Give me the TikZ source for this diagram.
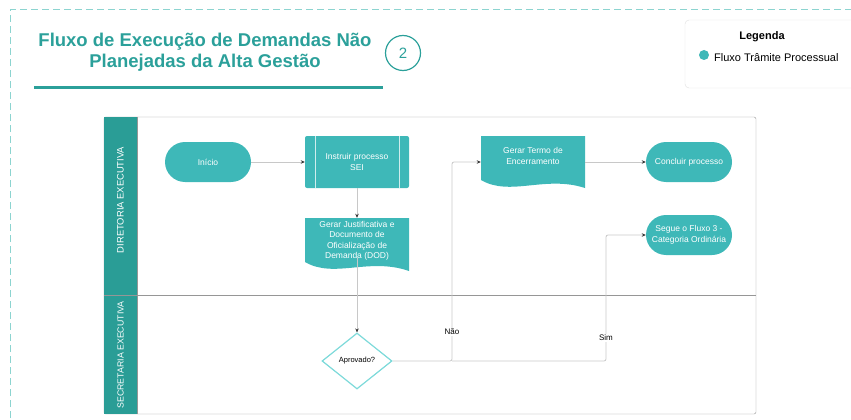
\documentclass[tikz,border=0pt]{standalone}
\usepackage{fontspec}
\setmainfont{Liberation Sans}
\usetikzlibrary{arrows.meta,shapes.geometric}
\definecolor{tealfill}{RGB}{62,184,184}
\definecolor{teallane}{RGB}{42,157,150}
\definecolor{tealtitle}{RGB}{43,160,154}
\definecolor{tealdash}{RGB}{140,212,208}
\definecolor{diamcol}{RGB}{125,218,218}
\definecolor{linecol}{RGB}{200,200,200}
\definecolor{poolcol}{RGB}{150,150,150}
\tikzset{
  conn/.style={draw=linecol, line width=0.8pt, rounded corners=2pt, -{Stealth[length=4pt,width=3.5pt,color=black!80]}},
  terminal/.style={fill=tealfill, rounded corners=20pt, minimum width=86pt, minimum height=40pt, text=white, font=\fontsize{8.5}{10.5}\selectfont, align=center},
  process/.style={fill=tealfill, rounded corners=2pt, minimum width=104pt, minimum height=52pt, text=white, font=\fontsize{8.5}{10.5}\selectfont, align=center},
  doctext/.style={text=white, font=\fontsize{8.5}{10.5}\selectfont, align=center, inner sep=0pt},
  lanelabel/.style={rotate=90, text=white, font=\fontsize{9.4}{11}\selectfont},
  edgelabel/.style={fill=white, inner sep=1pt, font=\fontsize{8}{10}\selectfont},
}
\begin{document}
\begin{tikzpicture}[x=1pt,y=1pt,yscale=-1,xscale=1]
\useasboundingbox (0,0) rectangle (851,420);

%Dashed frame
\draw [tealdash, line width=1pt, dash pattern={on 7pt off 4pt}] (10,440) -- (10,10) -- (870,10) ;

% Title
\node [text=tealtitle, font=\bfseries\fontsize{18.5}{21.5}\selectfont, align=center] (title) at (205,52) {Fluxo de Execução de Demandas Não\\Planejadas da Alta Gestão};
\draw [tealtitle, line width=3pt] (34,87) -- (383,87) ;
\node [circle, draw=tealtitle, line width=1.2pt, minimum size=35pt, inner sep=0pt, text=tealtitle, font=\fontsize{15}{15}\selectfont] (num) at (403,53) {2};

% Legend
\draw [draw=black!12, fill=white, rounded corners=4pt] (685,20) rectangle (875,88) ;
\node [font=\bfseries\fontsize{11}{13}\selectfont] (legtitle) at (762,37) {Legenda};
\node [circle, fill=tealfill, minimum size=10pt, inner sep=0pt] (legdot) at (704,55) {};
\node [anchor=west, inner sep=0pt, font=\fontsize{11}{13}\selectfont] (legtext) at (714,57.5) {Fluxo Trâmite Processual};

%Pool and lanes
\draw [poolcol, rounded corners=2pt] (104,117) rectangle (756,414) ;
\fill [teallane] (104,117) rectangle (137,414) ;
\draw [poolcol] (104,295) -- (756,295) ;
\draw [poolcol] (137,117) -- (137,414) ;
\node [lanelabel] (lane1) at (120.5,200) {DIRETORIA EXECUTIVA};
\node [lanelabel, font=\fontsize{8.8}{10}\selectfont] (lane2) at (120.5,355) {SECRETARIA EXECUTIVA};

% Nodes
\node [terminal] (inicio) at (208,162) {Início};
\node [process] (instr) at (357,162) {Instruir processo\\SEI};
\draw [white!75!tealfill] (315,136) -- (315,188) (399,136) -- (399,188) ;

%Document shapes
\fill [tealfill] (305,218) -- (409,218) -- (409,271) .. controls (369,257) and (334,279) .. (305,262) -- cycle ;
\node [doctext, minimum width=104pt, minimum height=46pt] (justif) at (357,241) {Gerar Justificativa e\\Documento de\\Oficialização de\\Demanda (DOD)};
\fill [tealfill] (481,136) -- (585,136) -- (585,188) .. controls (545,175) and (510,197) .. (481,180) -- cycle ;
\node [doctext, minimum width=104pt, minimum height=40pt] (termo) at (533,156) {Gerar Termo de\\Encerramento};

\node [terminal] (concl) at (689,162) {Concluir processo};
\node [terminal] (segue) at (689,235) {Segue o Fluxo 3 -\\Categoria Ordinária};

\node [diamond, draw=diamcol, line width=1.2pt, fill=white, minimum width=70pt, minimum height=56pt, inner sep=0pt, font=\fontsize{7.5}{9}\selectfont] (aprov) at (357,361) {Aprovado?};

% Connectors
\coordinate (naoc) at (452,361);
\coordinate (simc) at (606,361);
\draw [conn] (inicio) -- (instr) ;
\draw [conn] (instr) -- (justif) ;
\draw [conn] ([yshift=-6pt]justif.south) -- (aprov) ;
\draw [conn] (aprov.east) -- (naoc) |- (termo.west |- instr) ;
\draw [conn] (naoc) -- (simc) |- (segue.west) ;
\draw [conn] (termo.east |- instr) -- (concl) ;

% Text Node
\node [edgelabel] (nao) at (452,332) {Não};
\node [edgelabel] (sim) at (606,338) {Sim};

\end{tikzpicture}
\end{document}
